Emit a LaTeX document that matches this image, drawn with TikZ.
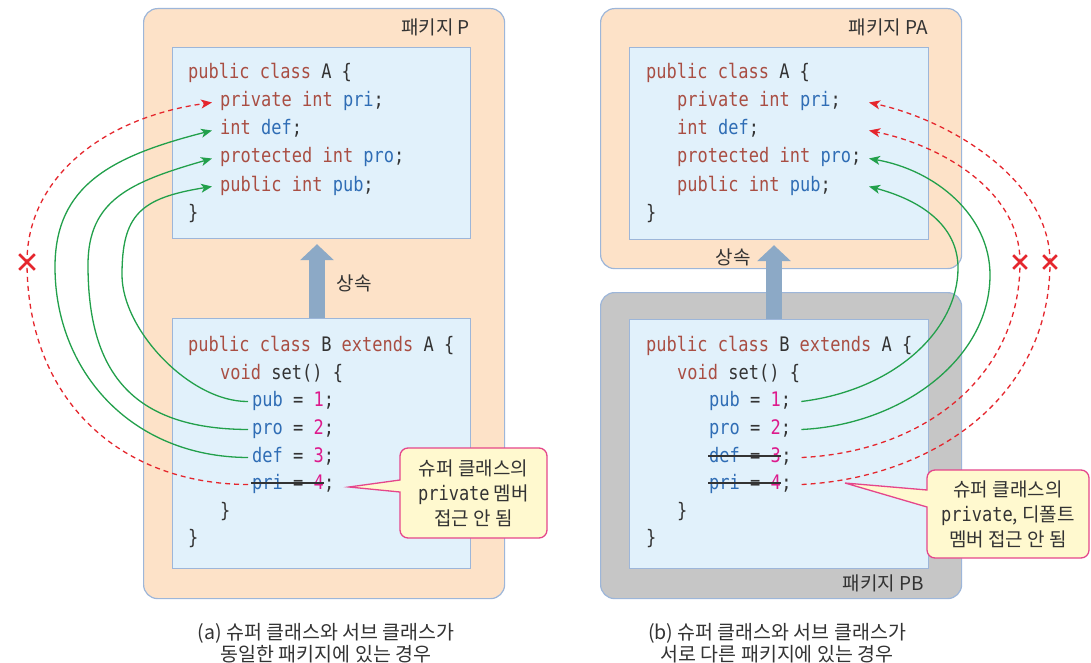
\documentclass[tikz,border=0pt]{standalone}
\usepackage{fontspec}
\setmainfont{Noto Sans CJK KR}
\newfontfamily\codefont{DejaVu Sans Mono}[FakeStretch=0.85]
\usetikzlibrary{arrows.meta,shapes.misc}
\definecolor{pkgfill}{HTML}{FDE2C8}
\definecolor{pkgline}{HTML}{9DB6D9}
\definecolor{boxfill}{HTML}{E1F1FB}
\definecolor{boxline}{HTML}{9DB6D9}
\definecolor{pbfill}{HTML}{C6C6C6}
\definecolor{inh}{HTML}{8CA9C6}
\definecolor{kwc}{HTML}{A94E43}
\definecolor{idc}{HTML}{2F6DB5}
\definecolor{nmc}{HTML}{DD1A8C}
\definecolor{txc}{HTML}{333333}
\definecolor{okc}{HTML}{22A04B}
\definecolor{noc}{HTML}{E5262D}
\definecolor{callfill}{HTML}{FFF9CF}
\definecolor{callline}{HTML}{E5468B}
\newcommand\ckw[1]{\textcolor{kwc}{#1}}
\newcommand\cid[1]{\textcolor{idc}{#1}}
\newcommand\cnm[1]{\textcolor{nmc}{#1}}
\tikzset{
  codeline/.style={anchor=base west, inner xsep=4pt, inner ysep=0pt, text height=13pt, text depth=4pt, text=txc, font=\codefont\fontsize{20}{24}\selectfont},
  semi/.style={anchor=base west, inner sep=0pt, text height=13pt, text depth=4pt, text=txc, font=\codefont\fontsize{20}{24}\selectfont},
  pkg/.style={draw=pkgline, fill=pkgfill, line width=1.2pt, rounded corners=14pt, anchor=north west, inner sep=0pt},
  cbox/.style={draw=boxline, fill=boxfill, line width=1.2pt, anchor=north west, inner sep=0pt},
  pkglabel/.style={anchor=east, font=\fontsize{19}{21}\selectfont, text=txc, inner sep=0pt},
  inharrow/.style={draw=inh, line width=16pt, -{Triangle[length=16pt,width=33pt]}},
  inhlabel/.style={font=\fontsize{19}{21}\selectfont, text=txc, inner sep=0pt},
  okline/.style={draw=okc, line width=1.3pt, -{Stealth[length=11pt,width=9pt,inset=3pt]}},
  noline/.style={draw=noc, line width=1.3pt, dash pattern=on 5pt off 4pt, -{Stealth[length=11pt,width=9pt,inset=3pt]}},
  xmark/.style={cross out, draw=noc, line width=2.6pt, minimum size=#1, inner sep=0pt},
  strikeline/.style={draw=txc, line width=1.2pt},
  callshape/.style={draw=callline, fill=callfill, line width=1.3pt, line join=miter},
  calltext/.style={align=center, font=\fontsize{19}{25}\selectfont, text=txc, inner sep=0pt},
  captext/.style={align=center, font=\fontsize{19.5}{22.5}\selectfont, text=txc, inner sep=0pt},
}
\begin{document}
\begin{tikzpicture}[x=1pt,y=-1pt]
\useasboundingbox (0,0) rectangle (1091,663);
\fill[white] (0,0) rectangle (1091,663);

% ---------- (a) same package ----------
\node[pkg, minimum width=361pt, minimum height=590pt] (P) at (143,8) {};
\node[pkglabel] (Pl) at (470,27) {패키지 P};
\node[cbox, minimum width=298pt, minimum height=191pt] (lA) at (172,47) {};
\node[cbox, minimum width=298pt, minimum height=250pt] (lB) at (172,318) {};

\node[codeline] (la0) at (184,79) {\ckw{public class} A \{};
\node[codeline] (la1) at (216,107) {\ckw{private int} \cid{pri};};
\node[codeline] (la2) at (216,135) {\ckw{int} \cid{def};};
\node[codeline] (la3) at (216,163) {\ckw{protected int} \cid{pro};};
\node[codeline] (la4) at (216,191) {\ckw{public int} \cid{pub};};
\node[codeline] (la5) at (184,219) {\}};

\node[codeline] (lb0) at (184,351) {\ckw{public class} B \ckw{extends} A \{};
\node[codeline] (lb1) at (216,379) {\ckw{void} set() \{};
\node[codeline] (lb2) at (248,406) {\cid{pub} = \cnm{1};};
\node[codeline] (lb3) at (248,434) {\cid{pro} = \cnm{2};};
\node[codeline] (lb4) at (248,462) {\cid{def} = \cnm{3};};
\node[codeline] (lb5) at (248,489) {\cid{pri} = \cnm{4}};
\node[semi] (lb5s) at ([xshift=-4pt]lb5.base east) {;};
\draw[strikeline] ([xshift=3pt,yshift=6pt]lb5.base west) -- ([xshift=-4pt,yshift=6pt]lb5.base east);
\node[codeline] (lb6) at (216,517) {\}};
\node[codeline] (lb7) at (184,544) {\}};

\coordinate (lix) at (317,0);
\draw[inharrow, shorten >=5pt] (lB.north -| lix) -- (lA.south -| lix);
\node[inhlabel] (linh) at (354,283) {상속};

\coordinate (xlpos) at (27,262);
\draw[okline] (lb2.west) .. controls (190,402) and (122,330) .. (122,275)
   .. controls (122,215) and (140,198) .. ([xshift=-4pt]la4.west);
\draw[okline] (lb3.west) .. controls (130,429) and (88,370) .. (88,265)
   .. controls (88,200) and (130,182) .. ([xshift=-4pt]la3.west);
\draw[okline] (lb4.west) .. controls (130,457) and (55,370) .. (55,267)
   .. controls (55,185) and (112,156) .. ([xshift=-4pt]la2.west);
\draw[noline] (lb5.west) .. controls (120,484) and (27,400) .. (xlpos)
   .. controls (27,180) and (100,118) .. ([xshift=-4pt]la1.west);
\node[xmark=13pt] (xl) at (xlpos) {};

\draw[callshape] (349,487) -- (400,480) -- (400,470) [rounded corners=8pt] -- (400,448) -- (547,448) -- (547,538) -- (400,538) -- (400,515) [sharp corners] -- (400,492) -- cycle;
\node[calltext] (cl) at (473.5,493) {슈퍼 클래스의\\{\codefont\fontsize{20}{24}\selectfont private} 멤버\\접근 안 됨};

\node[captext] (capa) at (326,643) {(a) 슈퍼 클래스와 서브 클래스가\\동일한 패키지에 있는 경우};

% ---------- (b) different packages ----------
\node[pkg, minimum width=361pt, minimum height=260pt] (PA) at (600,8) {};
\node[pkglabel] (PAl) at (928,27) {패키지 PA};
\node[pkg, fill=pbfill, minimum width=361pt, minimum height=306pt] (PB) at (600,292) {};
\node[pkglabel] (PBl) at (924,583) {패키지 PB};
\node[cbox, minimum width=299pt, minimum height=192pt] (rA) at (629,47) {};
\node[cbox, minimum width=299pt, minimum height=249pt] (rB) at (629,319) {};

\node[codeline] (ra0) at (642,79) {\ckw{public class} A \{};
\node[codeline] (ra1) at (673,107) {\ckw{private int} \cid{pri};};
\node[codeline] (ra2) at (673,135) {\ckw{int} \cid{def};};
\node[codeline] (ra3) at (673,163) {\ckw{protected int} \cid{pro};};
\node[codeline] (ra4) at (673,191) {\ckw{public int} \cid{pub};};
\node[codeline] (ra5) at (642,219) {\}};

\node[codeline] (rb0) at (642,351) {\ckw{public class} B \ckw{extends} A \{};
\node[codeline] (rb1) at (673,379) {\ckw{void} set() \{};
\node[codeline] (rb2) at (705,406) {\cid{pub} = \cnm{1};};
\node[codeline] (rb3) at (705,434) {\cid{pro} = \cnm{2};};
\node[codeline] (rb4) at (705,462) {\cid{def} = \cnm{3}};
\node[semi] (rb4s) at ([xshift=-4pt]rb4.base east) {;};
\draw[strikeline] ([xshift=3pt,yshift=6pt]rb4.base west) -- ([xshift=-4pt,yshift=6pt]rb4.base east);
\node[codeline] (rb5) at (705,489) {\cid{pri} = \cnm{4}};
\node[semi] (rb5s) at ([xshift=-4pt]rb5.base east) {;};
\draw[strikeline] ([xshift=3pt,yshift=6pt]rb5.base west) -- ([xshift=-4pt,yshift=6pt]rb5.base east);
\node[codeline] (rb6) at (673,517) {\}};
\node[codeline] (rb7) at (642,544) {\}};

\coordinate (rix) at (774,0);
\draw[inharrow, shorten >=5pt] (rB.north -| rix) -- (rA.south -| rix);
\node[inhlabel] (rinh) at (733,257) {상속};

\coordinate (rtip) at (869,0);
\coordinate (xr1pos) at (1020,262);
\coordinate (xr2pos) at (1050,262);
\draw[okline] ([xshift=6pt]rb2.east) .. controls (895,390) and (958,330) .. (958,268)
   .. controls (958,225) and (920,200) .. (rtip |- ra4.west);
\draw[okline] ([xshift=6pt]rb3.east) .. controls (900,425) and (990,360) .. (990,275)
   .. controls (990,215) and (935,170) .. (rtip |- ra3.west);
\draw[noline] ([xshift=10pt]rb4s.east) .. controls (920,452) and (1020,380) .. (xr1pos)
   .. controls (1020,190) and (940,145) .. (rtip |- ra2.west);
\draw[noline] ([xshift=10pt]rb5s.east) .. controls (930,478) and (1050,400) .. (xr2pos)
   .. controls (1050,180) and (950,120) .. (rtip |- ra1.west);
\node[xmark=11pt] (xr1) at (xr1pos) {};
\node[xmark=11pt] (xr2) at (xr2pos) {};

\draw[callshape] (845,483) -- (927,490) -- (927,482) [rounded corners=8pt] -- (927,470) -- (1089,470) -- (1089,558) -- (927,558) -- (927,530) [sharp corners] -- (927,507) -- cycle;
\node[calltext] (cr) at (1008,514) {슈퍼 클래스의\\{\codefont\fontsize{20}{24}\selectfont private}, 디폴트\\멤버 접근 안 됨};

\node[captext] (capb) at (777,643) {(b) 슈퍼 클래스와 서브 클래스가\\서로 다른 패키지에 있는 경우};
\end{tikzpicture}
\end{document}
